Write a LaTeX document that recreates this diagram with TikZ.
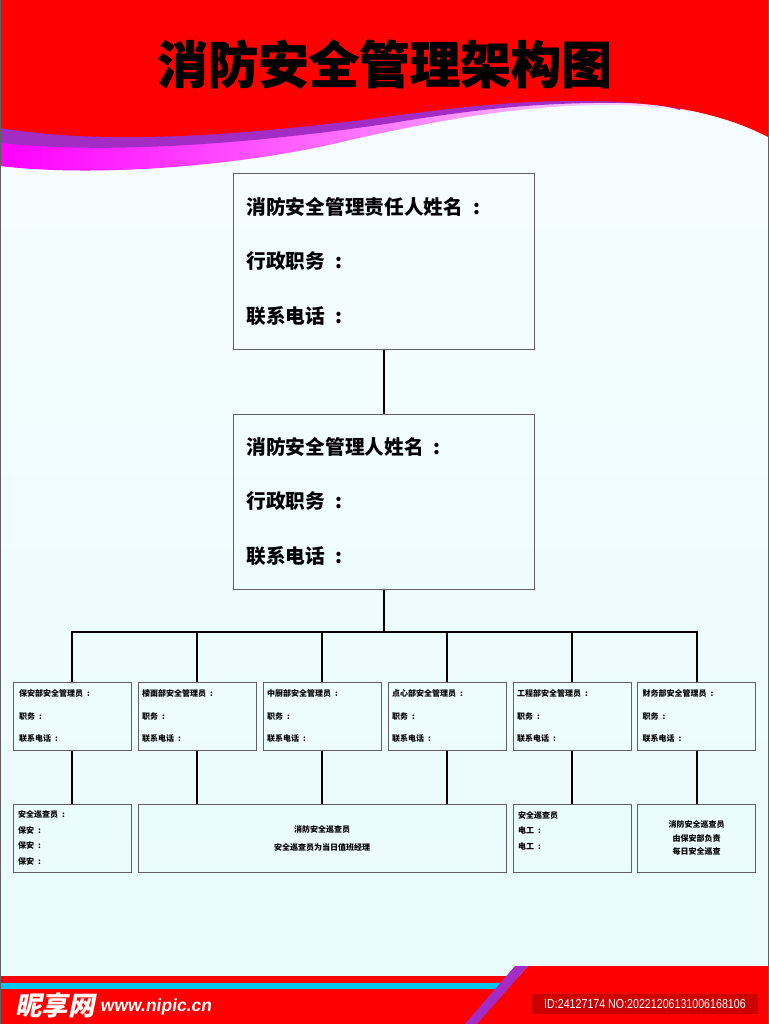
\documentclass[tikz,border=0pt]{standalone}
\usepackage{fontspec}
\setmainfont{Liberation Sans}
\newfontfamily\cjk{Noto Sans CJK SC}
\newfontfamily\cjktitle{Noto Sans CJK SC}[FakeBold=1]
\newfontfamily\cjklogo{Noto Sans CJK SC}[FakeSlant=0.2]
\newfontfamily\urlfont{Liberation Sans}[FakeSlant=0.15]
\newfontfamily\idfont{Liberation Sans}[FakeStretch=0.82]
\newcommand{\cnc}{\hspace{0.5em}:}
\definecolor{banner}{HTML}{FF0000}
\definecolor{stripe}{HTML}{A32CC4}
\definecolor{idbox}{HTML}{CC0000}
\definecolor{frameline}{HTML}{606060}
\definecolor{skyband}{HTML}{00C8F5}
\definecolor{paper}{HTML}{E8FBFD}
\tikzset{
	mainbox/.style={draw=frameline,line width=1pt,minimum width=301pt,minimum height=175pt,text width=275pt,inner sep=0pt,align=left,font={\cjk\bfseries\fontsize{19.7}{54.5}\selectfont}},
	unitbox/.style={draw=frameline,line width=1pt,minimum height=68pt,inner sep=0pt,font={\cjk\bfseries\fontsize{8}{22.5}\selectfont}},
	patrolbox/.style={unitbox,font={\cjk\bfseries\fontsize{8}{15.4}\selectfont}},
	link/.style={line width=2pt,black}
}
\begin{document}
\begin{tikzpicture}[x=1pt,y=-1pt]
		\useasboundingbox (0,0) rectangle (768,1024);
		% background and banners
		\shade[top color=paper!30,bottom color=paper] (0,0) rectangle (768,1024);
		\shade[left color=magenta,right color=magenta!12] (0,100) -- (0,166) .. controls (100,178) and (250,165) .. (350,140) .. controls (440,120) and (520,105) .. (610,105) .. controls (640,105) and (670,108) .. (690,112) -- (690,100) -- cycle;
		\fill[stripe] (0,100) -- (0,143) .. controls (110,155) and (260,143) .. (392,123) .. controls (470,110) and (540,102) .. (620,103) .. controls (640,103) and (665,105) .. (680,110) -- (680,100) -- cycle;
		\fill[banner] (0,0) -- (0,128) .. controls (110,146) and (250,135) .. (400,115) .. controls (480,104) and (540,100) .. (590,101) .. controls (660,102) and (720,112) .. (768,137) -- (768,0) -- cycle;
		\fill[banner] (0,976) rectangle (768,1024);
		\fill[skyband] (0,983) rectangle (500,989);
		\fill[banner] (528,966) -- (768,966) -- (768,1024) -- (477,1024) -- cycle;
		\fill[stripe] (515,966) -- (528,966) -- (477,1024) -- (465,1024) -- cycle;
		\draw[frameline,line width=1pt] (0,0) rectangle (768,1024);
		% title
		\node (title) at (384.5,64) {\cjktitle\bfseries\fontsize{50.5}{50.5}\selectfont 消防安全管理架构图};
		% the two main boxes
		\node[mainbox] (head) at (384,261.5) {消防安全管理责任人姓名\cnc\\行政职务\cnc\\联系电话\cnc};
		\node[mainbox] (manager) at (384,501.5) {消防安全管理人姓名\cnc\\行政职务\cnc\\联系电话\cnc};
		% department managers
		\foreach \name/\x/\dept/\tw in {a/72/保安部/106,b/197/楼面部/110,c/322/中厨部/110,d/447/点心部/110,e/572/工程部/110,f/696.5/财务部/108}
		\node[unitbox,minimum width=118pt,text width=\tw pt,align=left] (\name) at (\x,716) {\dept 安全管理员\cnc\\职务\cnc\\联系电话\cnc};
		% patrol boxes
		\node[patrolbox,minimum width=118pt,text width=108pt,align=left] (pa) at (72,838) {安全巡查员\cnc\\保安\cnc\\保安\cnc\\保安\cnc};
		\node[unitbox,minimum width=368pt,align=center,font={\cjk\bfseries\fontsize{8}{18}\selectfont}] (pb) at (322,838) {消防安全巡查员\\安全巡查员为当日值班经理};
		\node[patrolbox,minimum width=118pt,text width=108pt,align=left] (pe) at (572,838) {安全巡查员\\电工\cnc\\电工\cnc\\\mbox{}};
		\node[unitbox,minimum width=118pt,align=center,font={\cjk\bfseries\fontsize{8}{13.5}\selectfont}] (pf) at (696.5,838) {消防安全巡查员\\由保安部负责\\每日安全巡查};
		% connectors
		\coordinate (busl) at (72,632);
		\coordinate (busr) at (696.5,632);
		\coordinate (busm) at (384,632);
		\draw[link] (head) -- (manager);
		\draw[link] (manager) -- (busm);
		\draw[link,line cap=rect] (busl) -- (busr);
		\foreach \name in {a,b,c,d,e,f}
		\draw[link] (\name.north |- busm) -- (\name.north);
		\draw[link] (a) -- (pa);
		\draw[link] (e) -- (pe);
		\draw[link] (f) -- (pf);
		\foreach \name in {b,c,d}
		\draw[link] (\name.south) -- (\name.south |- pb.north);
		% footer
		\node[fill=idbox,minimum width=226pt,minimum height=20pt,inner sep=0pt] (idtag) at (645,1004) {};
		\node[text=white,inner sep=0pt] (idtext) at (idtag.center) {\idfont\fontsize{13}{13}\selectfont ID:24127174 NO:20221206131006168106};
		\node[text=white,inner sep=0pt,anchor=west] (logo) at (15,1005) {\cjklogo\bfseries\fontsize{26.5}{26.5}\selectfont 昵享网};
		\node[text=white,inner sep=0pt,anchor=west] (url) at (100,1007) {\urlfont\bfseries\fontsize{17.5}{17.5}\selectfont www.nipic.cn};
\end{tikzpicture}
\end{document}
